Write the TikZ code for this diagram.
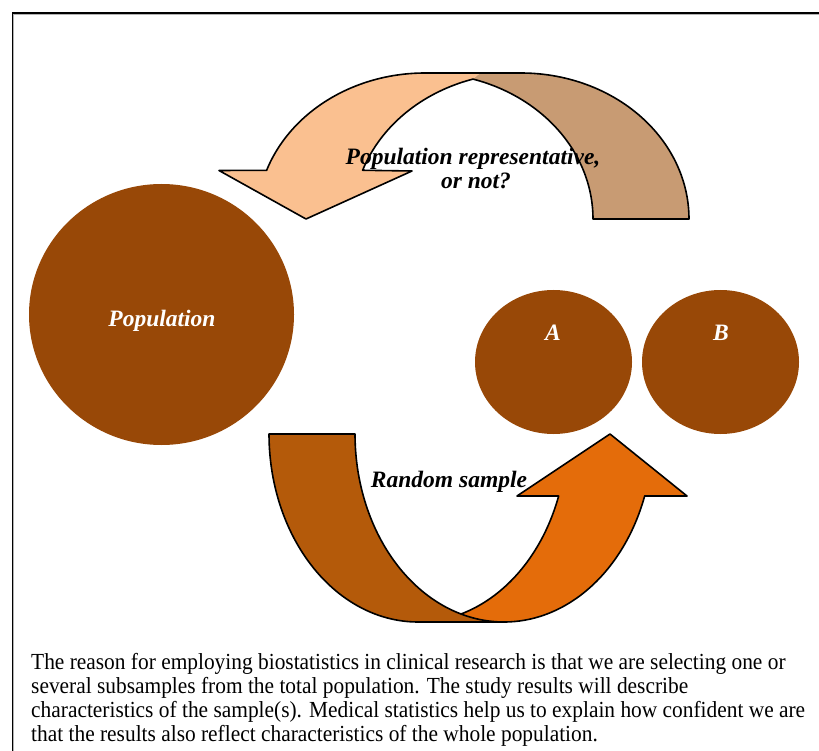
\documentclass[tikz,border=0pt]{standalone}
\usepackage{fontspec}
\setmainfont{Liberation Serif}[FakeStretch=0.93]
\newfontfamily\labfont{Liberation Serif}
\usetikzlibrary{shapes.geometric}
\definecolor{toplight}{HTML}{FAC090}
\definecolor{topdark}{HTML}{C89B73}
\definecolor{botdark}{HTML}{B45A0A}
\definecolor{botfront}{HTML}{E46C0A}
\definecolor{ellbrown}{HTML}{984807}
\begin{document}
\begin{tikzpicture}[x=1pt,y=-1pt,
  outline/.style={draw=black, line width=1.6pt, line join=round},
  blob/.style={ellipse, fill=ellbrown, inner sep=0pt, draw=none},
  lab/.style={font=\labfont\bfseries\itshape\fontsize{23.5}{24}\selectfont, inner sep=0pt, anchor=base},
  wlab/.style={lab, text=white},
  body/.style={font=\fontsize{23}{24}\selectfont, inner sep=0pt, anchor=base west}]
\useasboundingbox (0,0) rectangle (819,751);
\fill[white] (0,0) rectangle (819,751);
% frame
\draw[gray!60, line width=0.8pt] (13.6,751) -- (13.6,14.3) -- (819,14.3);
\draw[black, line width=1.4pt] (12.3,751) -- (12.3,13) -- (819,13);

% ellipses
\node[blob, minimum width=265pt, minimum height=261pt] (pop) at (161.5,314.5) {};
\node[blob, minimum width=157pt, minimum height=144pt] (ea) at (553.5,362) {};
\node[blob, minimum width=157pt, minimum height=144pt] (eb) at (720.5,362) {};
\node[wlab] (popL) at (162,326) {Population};
\node[wlab] (aL) at (553,340) {A};
\node[wlab] (bL) at (721,340) {B};

% top curved arrow (back part)
\fill[topdark] (593,219) -- (689,219)
  -- plot[domain=360:270, samples=60, variable=\t] ({521+168*cos(\t)},{219+146*sin(\t)})
  -- (480,73) -- (473,79.1)
  -- plot[domain=286.6:360, samples=60, variable=\t] ({425+168*cos(\t)},{219+146*sin(\t)}) -- cycle;
% top curved arrow (front part)
\fill[toplight] (266.6,170.3)
  -- plot[domain=199.5:270, samples=60, variable=\t] ({425+168*cos(\t)},{219+146*sin(\t)})
  -- (480,73) -- (473,79.1)
  -- plot[domain=253.4:199.5, samples=60, variable=\t] ({521+168*cos(\t)},{219+146*sin(\t)})
  -- (412,171) -- (306,219) -- (219,170.5) -- cycle;
% top outline
\draw[outline] (219,170.5) -- (266.6,170.3)
  -- plot[domain=199.5:270, samples=60, variable=\t] ({425+168*cos(\t)},{219+146*sin(\t)})
  -- plot[domain=270:360, samples=60, variable=\t] ({521+168*cos(\t)},{219+146*sin(\t)})
  -- (593,219)
  -- plot[domain=360:286.6, samples=60, variable=\t] ({425+168*cos(\t)},{219+146*sin(\t)})
  -- plot[domain=253.4:199.5, samples=60, variable=\t] ({521+168*cos(\t)},{219+146*sin(\t)})
  -- (412,171) -- (306,219) -- cycle;

% bottom curved arrow (back part)
\fill[botdark] (269,434) -- (355,434)
  -- plot[domain=180:90, samples=60, variable=\t] ({504+149*cos(\t)},{434+188*sin(\t)})
  -- (418,622)
  -- plot[domain=90:180, samples=60, variable=\t] ({418+149*cos(\t)},{434+188*sin(\t)}) -- cycle;
% bottom curved arrow (front part)
\fill[botfront] (558.7,496)
  -- plot[domain=19.26:73.2, samples=60, variable=\t] ({418+149*cos(\t)},{434+188*sin(\t)})
  -- plot[domain=106.8:19.26, samples=60, variable=\t] ({504+149*cos(\t)},{434+188*sin(\t)})
  -- (687,496) -- (610,434) -- (517,496) -- cycle;
% bottom outline
\draw[outline] (269,434) -- (355,434)
  -- plot[domain=180:106.8, samples=60, variable=\t] ({504+149*cos(\t)},{434+188*sin(\t)})
  -- plot[domain=73.2:19.26, samples=60, variable=\t] ({418+149*cos(\t)},{434+188*sin(\t)})
  -- (517,496) -- (610,434) -- (687,496) -- (644.7,496)
  -- plot[domain=19.26:90, samples=60, variable=\t] ({504+149*cos(\t)},{434+188*sin(\t)})
  -- plot[domain=90:180, samples=60, variable=\t] ({418+149*cos(\t)},{434+188*sin(\t)}) -- cycle;
\draw[outline] plot[domain=106.8:90, samples=30, variable=\t] ({504+149*cos(\t)},{434+188*sin(\t)});

% labels
\node[lab] (q1) at (473,165) {Population representative,};
\node[lab] (q2) at (476,189) {or not?};
\node[lab] (rs) at (449,487) {Random sample};

% body text
\node[body] (b1) at (31,669) {The reason for employing biostatistics in clinical research is that we are selecting one or};
\node[body] (b2) at (31,693.2) {several subsamples from the total population. The study results will describe};
\node[body] (b3) at (31,717.5) {characteristics of the sample(s). Medical statistics help us to explain how confident we are};
\node[body] (b4) at (31,741.7) {that the results also reflect characteristics of the whole population.};
\end{tikzpicture}
\end{document}
